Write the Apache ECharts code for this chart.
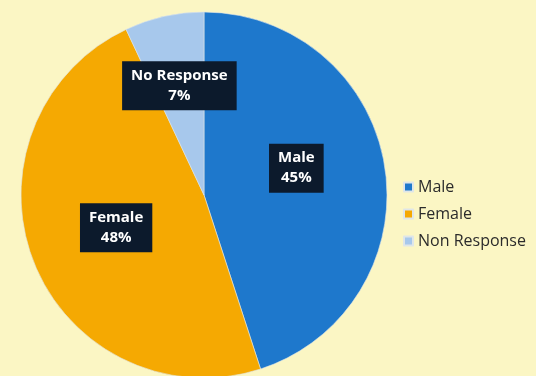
<!DOCTYPE html>
<html><head><meta charset="utf-8">
<style>html,body{margin:0;padding:0;background:#fbf6c4;}#c{width:536px;height:376px;}</style>
<script src="https://cdn.jsdelivr.net/npm/echarts@6/dist/echarts.min.js"></script>
</head><body><div id="c"></div>
<script>
var categories = ['Male', 'Female', 'No Response'];
var legendLabels = ['Male', 'Female', 'Non Response'];
var values = [45, 48, 7];
var colors = ['#1e78cc', '#f5a902', '#a7c8ec'];
var labelOffsets = [[-1, -12], [0, -2], [-4, -17]];

var chart = echarts.init(document.getElementById('c'));
var data = categories.map(function (n, i) {
  return { name: n, value: values[i], itemStyle: { color: colors[i] }, label: { offset: labelOffsets[i] } };
});
chart.setOption({
  backgroundColor: '#fbf6c4',
  animation: false,
  legend: {
    orient: 'vertical', left: 398, top: 173,
    itemWidth: 9, itemHeight: 9, itemGap: 9,
    icon: 'rect',
    data: categories,
    formatter: function (n) { return legendLabels[categories.indexOf(n)]; },
    textStyle: { fontFamily: 'Open Sans', fontSize: 16, color: '#2b2b2b', lineHeight: 18, padding: [0, 0, 0, 0] }
  },
  series: [{
    type: 'pie',
    center: [204, 195],
    radius: 183,
    startAngle: 90,
    clockwise: true,
    data: data,
    itemStyle: { borderColor: '#dfe6e8', borderWidth: 0.6 },
    label: {
      position: 'inner',
      formatter: '{b}\n{c}%',
      color: '#ffffff',
      fontFamily: 'Open Sans',
      fontWeight: 'bold',
      fontSize: 15,
      lineHeight: 20,
      backgroundColor: '#0c1a2c',
      padding: [5, 9, 4, 9],
      align: 'center'
    },
    labelLine: { show: false },
    emphasis: { disabled: true }
  }]
});
</script></body></html>
